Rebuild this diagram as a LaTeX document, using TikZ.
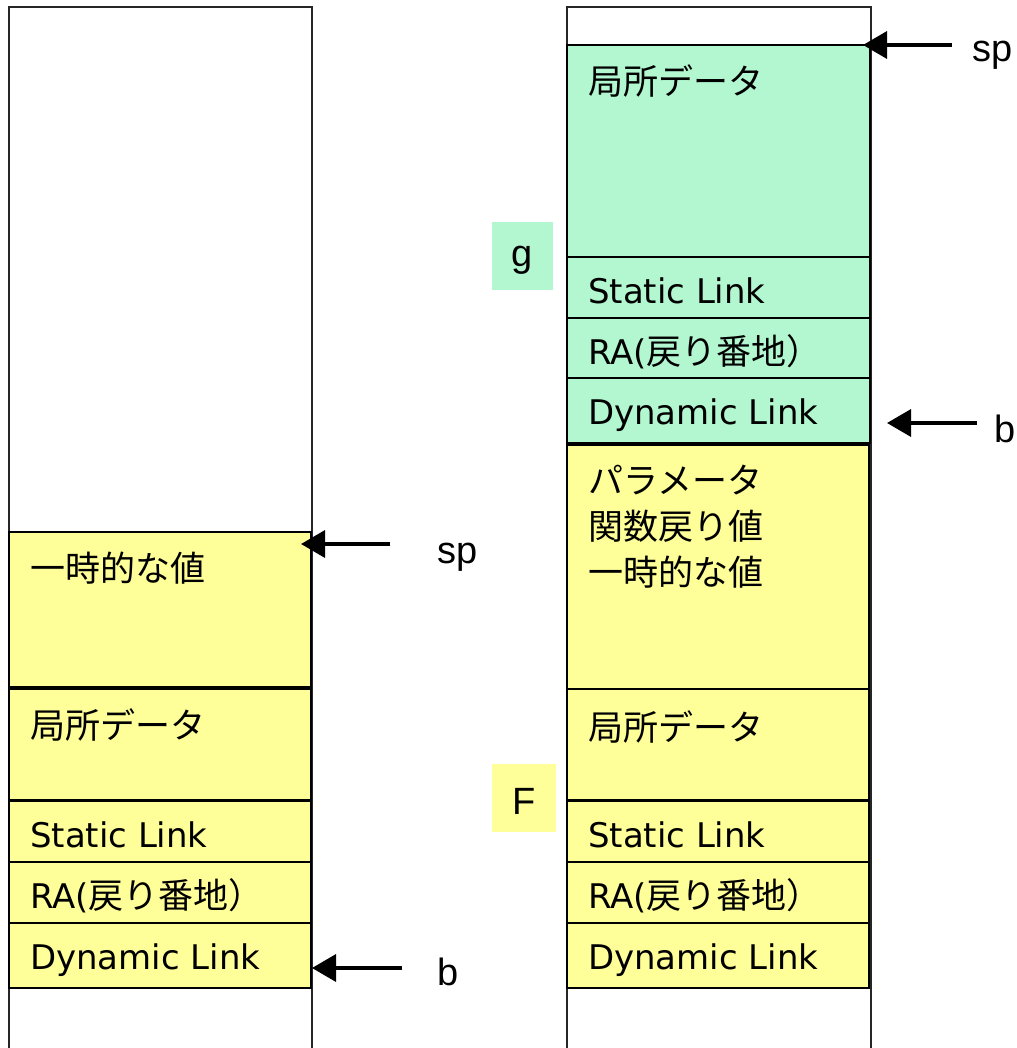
\documentclass[tikz,border=0pt]{standalone}
\usepackage{fontspec}
\setmainfont{Liberation Sans}
\newfontfamily\cjk{Noto Sans CJK JP}
\newfontfamily\lat{DejaVu Sans}[Scale=0.97]
\usetikzlibrary{arrows.meta}
\definecolor{stkgreen}{RGB}{179,247,208}
\definecolor{stkyellow}{RGB}{255,255,153}
\begin{document}
\begin{tikzpicture}[x=1pt,y=-1pt,
  colline/.style={draw=black!85, line width=1.1pt},
  cell/.style={draw=black, line width=1.3pt, inner sep=0pt, outer sep=0pt, anchor=north west},
  gcell/.style={cell, fill=stkgreen},
  ycell/.style={cell, fill=stkyellow},
  txt/.style={inner sep=0pt, anchor=base west, font=\fontsize{35}{42}\selectfont},
  lbl/.style={inner sep=0pt, anchor=base west, font=\fontsize{38}{44}\selectfont},
  tag/.style={inner sep=0pt, outer sep=0pt, anchor=north west},
  arr/.style={line width=3.5pt, -{Triangle[length=24pt,width=27pt]}}
]
\useasboundingbox (0,0) rectangle (1016,1048);
% columns
\draw[colline] (9,1050) -- (9,7) -- (312,7) -- (312,1050);
\draw[colline] (567,1050) -- (567,7) -- (871,7) -- (871,1050);

% ---- left stack ----
\node[ycell, minimum width=302pt, minimum height=155pt] (Ltmp) at (9,532) {};
\node[ycell, minimum width=302pt, minimum height=111pt] (Lloc) at (9,689) {};
\node[ycell, minimum width=302pt, minimum height=61pt] (Lsl) at (9,801) {};
\node[ycell, minimum width=302pt, minimum height=61pt] (Lra) at (9,862) {};
\node[ycell, minimum width=302pt, minimum height=65pt] (Ldl) at (9,923) {};
\node[txt] (tLtmp) at (30,581) {\cjk 一時的な値};
\node[txt] (tLloc) at (30,738) {\cjk 局所データ};
\node[txt] (tLsl) at (30,847) {\lat Static Link};
\node[txt] (tLra) at (30,908) {\lat RA(\cjk 戻り番地）};
\node[txt] (tLdl) at (30,969) {\lat Dynamic Link};

% ---- right stack ----
\node[gcell, minimum width=303pt, minimum height=212pt] (Rloc2) at (567,45) {};
\node[gcell, minimum width=303pt, minimum height=61pt] (Rsl2) at (567,257) {};
\node[gcell, minimum width=303pt, minimum height=60pt] (Rra2) at (567,318) {};
\node[gcell, minimum width=303pt, minimum height=65pt] (Rdl2) at (567,378) {};
\node[ycell, minimum width=302pt, minimum height=244pt] (Rpar) at (567,445) {};
\node[ycell, minimum width=302pt, minimum height=111pt] (Rloc) at (567,689) {};
\node[ycell, minimum width=302pt, minimum height=61pt] (Rsl) at (567,801) {};
\node[ycell, minimum width=302pt, minimum height=61pt] (Rra) at (567,862) {};
\node[ycell, minimum width=302pt, minimum height=65pt] (Rdl) at (567,923) {};

\node[txt] (tRloc2) at (588,95) {\cjk 局所データ};
\node[txt] (tRsl2) at (588,303) {\lat Static Link};
\node[txt] (tRra2) at (588,364) {\lat RA(\cjk 戻り番地）};
\node[txt] (tRdl2) at (588,424) {\lat Dynamic Link};
\node[txt] (tRpar1) at (588,493) {\cjk パラメータ};
\node[txt] (tRpar2) at (588,539) {\cjk 関数戻り値};
\node[txt] (tRpar3) at (588,585) {\cjk 一時的な値};
\node[txt] (tRloc) at (588,740) {\cjk 局所データ};
\node[txt] (tRsl) at (588,847) {\lat Static Link};
\node[txt] (tRra) at (588,908) {\lat RA(\cjk 戻り番地）};
\node[txt] (tRdl) at (588,969) {\lat Dynamic Link};

% ---- frame tags ----
\node[tag, fill=stkgreen, minimum width=61pt, minimum height=68pt] (gbox) at (492,222) {};
\node[lbl, anchor=base] (gtxt) at (522.5,267) {g};
\node[tag, fill=stkyellow, minimum width=64pt, minimum height=68pt] (Fbox) at (492,764) {};
\node[lbl, anchor=base] (Ftxt) at (524,814) {F};

% ---- pointers ----
\node[lbl] (spL) at (437,563) {sp};
\node[lbl] (bL) at (437,985) {b};
\node[lbl] (spR) at (972,62) {sp};
\node[lbl] (bR) at (994,442) {b};
\coordinate (spLtail) at (390,544);
\coordinate (spLtip) at (301,544);
\coordinate (bLtail) at (402,968);
\coordinate (bLtip) at (312,968);
\coordinate (spRtail) at (952,45);
\coordinate (spRtip) at (863,45);
\coordinate (bRtail) at (977,423);
\coordinate (bRtip) at (887,423);
\draw[arr] (spLtail) -- (spLtip);
\draw[arr] (bLtail) -- (bLtip);
\draw[arr] (spRtail) -- (spRtip);
\draw[arr] (bRtail) -- (bRtip);
\end{tikzpicture}
\end{document}
